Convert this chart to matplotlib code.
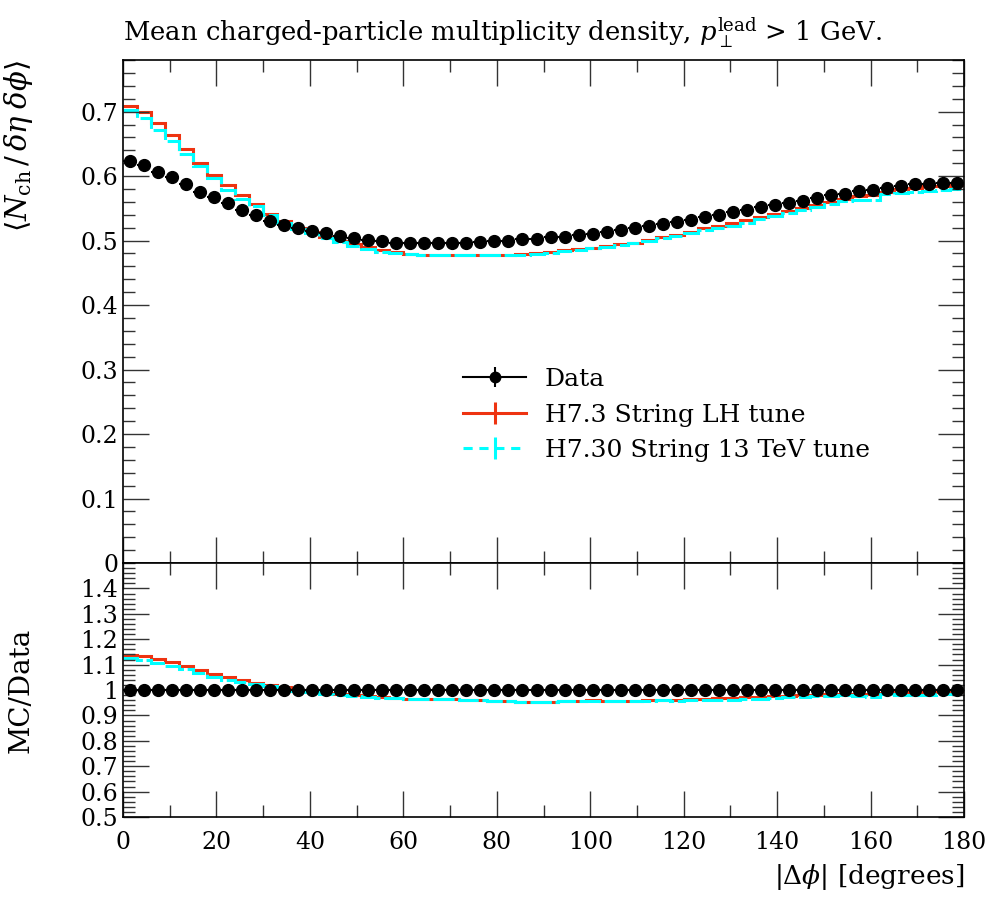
import numpy as np
import matplotlib
matplotlib.use("Agg")
import matplotlib.pyplot as plt
from matplotlib.ticker import MultipleLocator, FixedLocator
from matplotlib.lines import Line2D

plt.rcParams['font.family'] = ['DejaVu Serif']
plt.rcParams['mathtext.fontset'] = 'dejavuserif'

# bins of |dphi| in degrees
edges = np.arange(0, 181, 3)
centers = 0.5 * (edges[:-1] + edges[1:])

data = [0.623, 0.617, 0.607, 0.598, 0.587, 0.576, 0.567, 0.558, 0.548, 0.540,
        0.531, 0.524, 0.520, 0.515, 0.512, 0.507, 0.504, 0.501, 0.499, 0.497,
        0.497, 0.496, 0.496, 0.496, 0.497, 0.498, 0.499, 0.500, 0.502, 0.503,
        0.505, 0.506, 0.508, 0.510, 0.513, 0.516, 0.519, 0.522, 0.525, 0.529,
        0.532, 0.537, 0.540, 0.544, 0.548, 0.552, 0.555, 0.559, 0.562, 0.566,
        0.570, 0.573, 0.577, 0.579, 0.582, 0.585, 0.587, 0.588, 0.589, 0.589]

h73_lh = [0.709, 0.699, 0.682, 0.663, 0.642, 0.621, 0.602, 0.586, 0.570, 0.556,
          0.542, 0.530, 0.520, 0.513, 0.506, 0.500, 0.494, 0.490, 0.485, 0.482,
          0.479, 0.478, 0.478, 0.478, 0.478, 0.478, 0.478, 0.478, 0.479, 0.480,
          0.482, 0.485, 0.487, 0.489, 0.491, 0.494, 0.497, 0.501, 0.505, 0.509,
          0.514, 0.519, 0.523, 0.527, 0.532, 0.537, 0.542, 0.546, 0.551, 0.555,
          0.560, 0.565, 0.569, 0.570, 0.576, 0.580, 0.582, 0.584, 0.585, 0.586]

h730_13tev = [0.702, 0.690, 0.672, 0.654, 0.635, 0.615, 0.597, 0.579, 0.565, 0.553,
              0.540, 0.528, 0.518, 0.512, 0.504, 0.498, 0.492, 0.487, 0.483, 0.481,
              0.479, 0.478, 0.478, 0.478, 0.478, 0.478, 0.478, 0.478, 0.478, 0.479,
              0.481, 0.484, 0.486, 0.488, 0.490, 0.493, 0.496, 0.500, 0.504, 0.507,
              0.512, 0.516, 0.519, 0.523, 0.528, 0.533, 0.538, 0.543, 0.547, 0.552,
              0.557, 0.562, 0.563, 0.563, 0.572, 0.574, 0.576, 0.577, 0.579, 0.580]

labels = ["Data", "H7.3 String LH tune", "H7.30 String 13 TeV tune"]
red = "#EE3311"
cyan = "#00FFFF"

data = np.array(data)
mc = [np.array(h73_lh), np.array(h730_13tev)]
colors = [red, cyan]
styles = ["-", (0, (7, 1.2))]

fig = plt.figure(figsize=(9.96, 9.0), dpi=100)
ax = fig.add_axes([0.1235, 0.3744, 0.8444, 0.5589])
rax = fig.add_axes([0.1235, 0.0922, 0.8444, 0.2822], sharex=ax)

fs = 17
for a in (ax, rax):
    a.tick_params(which="both", direction="in", top=True, right=True,
                  labelsize=fs, color="#333333")
    a.tick_params(which="major", length=19, width=1.0)
    a.tick_params(which="minor", length=8.5, width=1.0)
    for s in a.spines.values():
        s.set_linewidth(1.2)
    a.xaxis.set_major_locator(MultipleLocator(20))
    a.xaxis.set_minor_locator(MultipleLocator(10))
    a.yaxis.set_minor_locator(MultipleLocator(0.02))

# main panel
for vals, c, ls in zip(mc, colors, styles):
    ax.stairs(vals, edges, baseline=None, color=c, lw=2.2, linestyle=ls)
ax.errorbar(centers, data, xerr=1.5, yerr=0, fmt="o", color="black",
            ms=8.5, lw=1.5, capsize=0, zorder=5)

ax.set_xlim(0, 180)
ax.set_ylim(0, 0.78)
ax.yaxis.set_major_locator(FixedLocator([0, 0.1, 0.2, 0.3, 0.4, 0.5, 0.6, 0.7]))
ax.set_yticklabels(["0", "0.1", "0.2", "0.3", "0.4", "0.5", "0.6", "0.7"])
ax.tick_params(labelbottom=False)
ax.set_ylabel(r"$\langle N_\mathrm{ch}\,/\,\delta\eta\;\delta\phi\rangle$",
              fontsize=21, loc="top")
ax.yaxis.set_label_coords(-0.105, 1.0)
ax.set_title(r"Mean charged-particle multiplicity density, $p_\perp^\mathrm{lead}$ > 1 GeV.",
             fontsize=18.6, loc="left", pad=14)

h_data = (Line2D([], [], color="black", lw=1.5, marker="o", ms=7.5),
          Line2D([], [], color="black", ls="none", marker="|", ms=14, mew=1.5))
h_red = Line2D([], [], color=red, lw=2.2, marker="|", ms=16, mew=2.2)
h_cyan = Line2D([], [], color=cyan, lw=2.2, linestyle=(0, (3, 2.2)),
                marker="|", ms=16, mew=2.2)
ax.legend([h_data, h_red, h_cyan], labels, loc="upper left",
          bbox_to_anchor=(0.378, 0.432), frameon=False, fontsize=18,
          handlelength=2.5, handletextpad=0.75, labelspacing=0.5)

# ratio panel
for vals, c, ls in zip(mc, colors, styles):
    rax.stairs(vals / data, edges, baseline=None, color=c, lw=2.2, linestyle=ls)
rax.errorbar(centers, data / data, xerr=1.5, yerr=0, fmt="o", color="black",
             ms=8.5, lw=1.5, capsize=0, zorder=5)
rax.set_ylim(0.5, 1.5)
rticks = [0.5, 0.6, 0.7, 0.8, 0.9, 1.0, 1.1, 1.2, 1.3, 1.4]
rax.yaxis.set_major_locator(FixedLocator(rticks))
rax.set_yticklabels(["0.5", "0.6", "0.7", "0.8", "0.9", "1", "1.1", "1.2", "1.3", "1.4"])
rax.set_ylabel("MC/Data", fontsize=20)
rax.yaxis.set_label_coords(-0.105, 0.5)
rax.set_xlabel(r"$|\Delta\phi|$ [degrees]", fontsize=19, loc="right",
               labelpad=6)
rax.tick_params(axis="x", pad=10)

fig.savefig("out.png", dpi=100)
